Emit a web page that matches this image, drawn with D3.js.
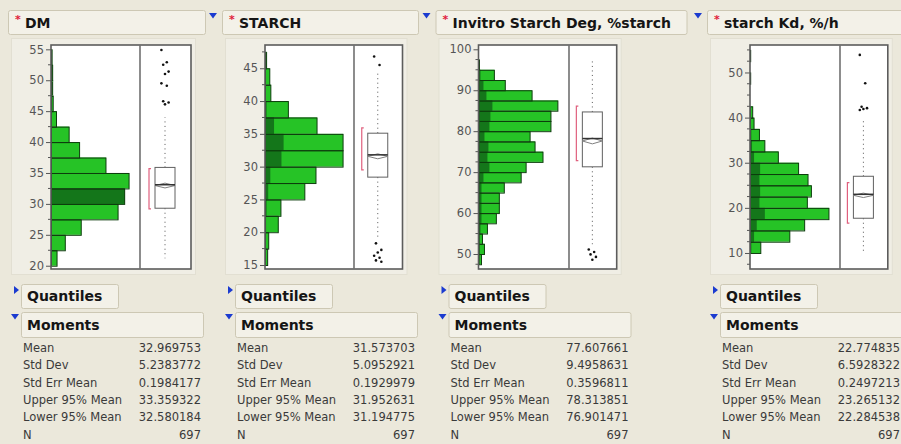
<!DOCTYPE html>
<html>
<head>
<meta charset="utf-8">
<script src="https://cdn.jsdelivr.net/npm/d3@7"></script>
<style>
  html, body { margin: 0; padding: 0; background: #ebe8db; }
  svg { display: block; font-family: "DejaVu Sans", Verdana, sans-serif; }
</style>
</head>
<body>
<svg id="chart" width="901" height="444"></svg>
<script>
// ---- Data -------------------------------------------------------------
const variableNames = ["DM", "STARCH", "Invitro Starch Deg, %starch", "starch Kd, %/h"];
const binWidth = 2.5;
const momentLabels = ["Mean", "Std Dev", "Std Err Mean", "Upper 95% Mean", "Lower 95% Mean", "N"];

// DM
const dmBinStarts = [20, 22.5, 25, 27.5, 30, 32.5, 35, 37.5, 40, 42.5, 45, 47.5, 50, 52.5];
const dmCounts    = [11, 26, 55, 122, 134, 142, 100, 52, 33, 10, 4, 3, 3, 2];
const dmSelected  = [0, 0, 0, 0, 134, 0, 0, 0, 0, 0, 0, 0, 0, 0];
const dmTicks     = [20, 25, 30, 35, 40, 45, 50, 55];
const dmAxisRange = [19.47, 55.7];
const dmBox       = [21.2, 29.3, 33.1, 35.9, 44.0];   // whisker low, Q1, median, Q3, whisker high
const dmShortestHalf = [29.2, 35.7];
const dmOutliers  = [54.9, 52.9, 52.5, 51.4, 51.0, 49.5, 49.1, 46.6, 46.4, 46.1];
const dmMoments   = ["32.969753", "5.2383772", "0.1984177", "33.359322", "32.580184", "697"];

// STARCH
const starchBinStarts = [15, 17.5, 20, 22.5, 25, 27.5, 30, 32.5, 35, 37.5, 40, 42.5, 45];
const starchCounts    = [5, 7, 25, 30, 75, 96, 147, 147, 98, 44, 11, 9, 3];
const starchSelected  = [0, 1, 2, 3, 6, 10, 31, 35, 17, 3, 1, 0, 0];
const starchTicks     = [15, 20, 25, 30, 35, 40, 45];
const starchAxisRange = [14.39, 48.55];
const starchBox       = [19.2, 28.4, 31.8, 35.1, 44.2];
const starchShortestHalf = [29.5, 35.9];
const starchOutliers  = [46.8, 45.5, 18.3, 17.3, 16.9, 16.4, 16.1, 15.7, 15.5];
const starchMoments   = ["31.573703", "5.0952921", "0.1929979", "31.952631", "31.194775", "697"];

// Invitro starch degradation
const invitroBinStarts = [47.5, 50, 52.5, 55, 57.5, 60, 62.5, 65, 67.5, 70, 72.5, 75, 77.5, 80, 82.5, 85, 87.5, 90, 92.5, 95];
const invitroCounts    = [3, 6, 4, 9, 18, 21, 21, 26, 43, 48, 65, 57, 52, 73, 73, 80, 54, 27, 16, 1];
const invitroSelected  = [0, 1, 1, 2, 3, 3, 3, 3, 5, 11, 9, 10, 6, 11, 12, 14, 8, 5, 2, 0];
const invitroTicks     = [50, 60, 70, 80, 90, 100];
const invitroAxisRange = [46.34, 101.05];
const invitroBox       = [52.4, 71.3, 78.2, 84.7, 97.4];
const invitroShortestHalf = [72.8, 86.1];
const invitroOutliers  = [51.1, 50.5, 49.9, 49.3, 48.6];
const invitroMoments   = ["77.607661", "9.4958631", "0.3596811", "78.313851", "76.901471", "697"];

// Starch Kd
const kdBinStarts = [10, 12.5, 15, 17.5, 20, 22.5, 25, 27.5, 30, 32.5, 35, 37.5, 40, 42.5, 45, 47.5, 50, 52.5];
const kdCounts    = [16, 59, 81, 117, 85, 91, 86, 72, 42, 22, 14, 6, 4, 0, 0, 1, 0, 1];
const kdSelected  = [2, 6, 10, 22, 14, 15, 14, 15, 6, 3, 2, 1, 1, 0, 0, 0, 0, 0];
const kdTicks     = [10, 20, 30, 40, 50];
const kdAxisRange = [6.45, 56.09];
const kdBox       = [9.9, 17.7, 23.0, 27.0, 39.6];
const kdShortestHalf = [16.6, 25.6];
const kdOutliers  = [53.9, 47.6, 42.4, 42.1, 41.9, 41.7];
const kdMoments   = ["22.774835", "6.5928322", "0.2497213", "23.265132", "22.284538", "697"];

// ---- Panels -----------------------------------------------------------
const panels = [
  { name: variableNames[0], starts: dmBinStarts, counts: dmCounts, selected: dmSelected, ticks: dmTicks,
    range: dmAxisRange, box: dmBox, half: dmShortestHalf, outliers: dmOutliers, moments: dmMoments },
  { name: variableNames[1], starts: starchBinStarts, counts: starchCounts, selected: starchSelected, ticks: starchTicks,
    range: starchAxisRange, box: starchBox, half: starchShortestHalf, outliers: starchOutliers, moments: starchMoments },
  { name: variableNames[2], starts: invitroBinStarts, counts: invitroCounts, selected: invitroSelected, ticks: invitroTicks,
    range: invitroAxisRange, box: invitroBox, half: invitroShortestHalf, outliers: invitroOutliers, moments: invitroMoments },
  { name: variableNames[3], starts: kdBinStarts, counts: kdCounts, selected: kdSelected, ticks: kdTicks,
    range: kdAxisRange, box: kdBox, half: kdShortestHalf, outliers: kdOutliers, moments: kdMoments }
];

// Placement of each report column
const layout = [
  { left: 51,    div: 89,   right: 140,   titleW: 197, momW: 182, arrow: false },
  { left: 265,   div: 89,   right: 137.5, titleW: 196, momW: 182, arrow: true },
  { left: 478.5, div: 90.5, right: 138.2, titleW: 251, momW: 182, arrow: true },
  { left: 750,   div: 90,   right: 137.8, titleW: 210, momW: 200, arrow: true }
];

const frameTop = 45, frameBottom = 269;
const svg = d3.select("#chart");

const C = {
  panel: "#f3f1e8", panelStroke: "#cdc8b4",
  bar: "#26c326", barSel: "#14761a", barStroke: "#0d3d0d",
  frame: "#5c5c5c", text: "#3a3a3a", tick: "#555", blue: "#1b3bd0", red: "#e0203a",
  half: "#e0607e"
};

function downArrow(g, x, y) {
  g.append("path").attr("d", `M${x},${y} L${x + 8},${y} L${x + 4},${y + 5.5} Z`).attr("fill", C.blue);
}
function rightArrow(g, x, y) {
  g.append("path").attr("d", `M${x},${y} L${x + 5},${y + 4} L${x},${y + 8} Z`).attr("fill", C.blue);
}
function headerBox(g, x, y, w, h, label) {
  g.append("rect").attr("x", x + 0.5).attr("y", y + 0.5).attr("width", w).attr("height", h)
    .attr("rx", 2).attr("fill", C.panel).attr("stroke", C.panelStroke);
  g.append("text").attr("x", x + 6).attr("y", y + h / 2 + 5)
    .attr("font-size", 14).attr("font-weight", "bold").attr("fill", "#151515").text(label);
}

panels.forEach((p, i) => {
  const L = layout[i];
  const g = svg.append("g");
  const x0 = L.left, xDiv = L.left + L.div, x1 = L.left + L.right;

  // title bar
  const tx = x0 - 43;
  if (L.arrow) downArrow(g, x0 - 56, 13);
  g.append("rect").attr("x", tx + 0.5).attr("y", 10.5).attr("width", L.titleW).attr("height", 24)
    .attr("rx", 2).attr("fill", C.panel).attr("stroke", C.panelStroke);
  g.append("text").attr("x", tx + 7).attr("y", 23).attr("font-size", 11).attr("font-weight", "bold")
    .attr("fill", C.red).text("*");
  g.append("text").attr("x", tx + 17).attr("y", 27.5).attr("font-size", 14).attr("font-weight", "bold")
    .attr("fill", "#151515").text(p.name);

  // light outline around the graph area
  g.append("rect").attr("x", x0 - 39.5).attr("y", 38.5).attr("width", L.right + 44).attr("height", 236)
    .attr("fill", "#f0eee5").attr("stroke", "#e2dfd2");

  // frame background
  g.append("rect").attr("x", x0).attr("y", frameTop).attr("width", L.right).attr("height", frameBottom - frameTop)
    .attr("fill", "#ffffff");

  const y = d3.scaleLinear().domain(p.range).range([frameBottom, frameTop]);
  const x = d3.scaleLinear().domain([0, d3.max(p.counts) * 1.14]).range([x0, xDiv]);

  const bins = p.starts.map((s, k) => ({ s, n: p.counts[k], sel: p.selected[k] })).filter(d => d.n > 0);

  // histogram bars: fill, selected portion, outline
  g.append("g").selectAll("rect").data(bins).join("rect")
    .attr("x", x(0)).attr("y", d => y(d.s + binWidth))
    .attr("width", d => x(d.n) - x(0)).attr("height", d => y(d.s) - y(d.s + binWidth))
    .attr("fill", C.bar);
  g.append("g").selectAll("rect").data(bins.filter(d => d.sel > 0)).join("rect")
    .attr("x", x(0)).attr("y", d => y(d.s + binWidth))
    .attr("width", d => x(d.sel) - x(0)).attr("height", d => y(d.s) - y(d.s + binWidth))
    .attr("fill", C.barSel);
  g.append("g").selectAll("rect").data(bins).join("rect")
    .attr("x", x(0) + 0.5).attr("y", d => y(d.s + binWidth) + 0.5)
    .attr("width", d => Math.max(0, x(d.n) - x(0) - 0.5)).attr("height", d => y(d.s) - y(d.s + binWidth))
    .attr("fill", "none").attr("stroke", C.barStroke).attr("stroke-width", 1);

  // axis with major and minor ticks
  const minor = d3.range(Math.ceil(p.range[0] / binWidth) * binWidth, p.range[1], binWidth)
    .filter(v => !p.ticks.includes(v));
  g.append("g").selectAll("line").data(minor).join("line")
    .attr("x1", x0 - 3).attr("x2", x0).attr("y1", d => y(d)).attr("y2", d => y(d))
    .attr("stroke", C.tick).attr("stroke-width", 1);
  const axis = g.append("g").attr("transform", `translate(${x0},0)`)
    .call(d3.axisLeft(y).tickValues(p.ticks).tickSize(5).tickPadding(2).tickFormat(d3.format("d")));
  axis.select(".domain").remove();
  axis.selectAll(".tick line").attr("stroke", C.tick);
  axis.selectAll(".tick text").attr("font-size", 11.5).attr("fill", "#555")
    .attr("font-family", "'DejaVu Sans', Verdana, sans-serif");

  // frame border and divider
  g.append("rect").attr("x", x0).attr("y", frameTop).attr("width", L.right).attr("height", frameBottom - frameTop)
    .attr("fill", "none").attr("stroke", C.frame).attr("stroke-width", 1.6);
  g.append("line").attr("x1", xDiv).attr("x2", xDiv).attr("y1", frameTop).attr("y2", frameBottom)
    .attr("stroke", "#707070").attr("stroke-width", 1.6);

  // outlier box plot
  const bc = (xDiv + x1) / 2 - 0.5, bw = 20;
  const [wLo, q1, med, q3, wHi] = p.box;
  g.append("line").attr("x1", bc).attr("x2", bc).attr("y1", y(q3)).attr("y2", y(wHi))
    .attr("stroke", "#555").attr("stroke-dasharray", "1,3.5");
  g.append("line").attr("x1", bc).attr("x2", bc).attr("y1", y(q1)).attr("y2", y(wLo))
    .attr("stroke", "#555").attr("stroke-dasharray", "1,3.5");
  g.append("rect").attr("x", bc - bw / 2).attr("y", y(q3)).attr("width", bw).attr("height", y(q1) - y(q3))
    .attr("fill", "#ffffff").attr("stroke", "#606060").attr("stroke-width", 1);

  const mean = +p.moments[0], up = +p.moments[3], lo = +p.moments[4];
  g.append("path")
    .attr("d", `M${bc - bw / 2},${y(mean)} L${bc},${y(up)} L${bc + bw / 2},${y(mean)} L${bc},${y(lo)} Z`)
    .attr("fill", "none").attr("stroke", "#808080").attr("stroke-width", 1);
  g.append("line").attr("x1", bc - bw / 2).attr("x2", bc + bw / 2).attr("y1", y(med)).attr("y2", y(med))
    .attr("stroke", "#333").attr("stroke-width", 1.5);

  // shortest half bracket
  const hx = bc - bw / 2 - 6;
  g.append("path")
    .attr("d", `M${hx + 2},${y(p.half[1])} L${hx},${y(p.half[1])} L${hx},${y(p.half[0])} L${hx + 2},${y(p.half[0])}`)
    .attr("fill", "none").attr("stroke", C.half).attr("stroke-width", 1.2);

  // outliers, spread slightly sideways
  g.append("g").selectAll("circle").data(p.outliers).join("circle")
    .attr("cx", (d, k) => bc + ((k * 3) % 5 - 2) * 1.8).attr("cy", d => y(d)).attr("r", 1.3)
    .attr("fill", "#111");

  // Quantiles / Moments outline headers
  const sx = x0 - 30;
  rightArrow(g, x0 - 37, 286);
  headerBox(g, sx, 284, 97, 24, "Quantiles");
  downArrow(g, x0 - 40, 314);
  headerBox(g, sx, 312, L.momW, 25, "Moments");

  // Moments table
  const rows = g.append("g").attr("font-size", 11.5).attr("fill", C.text);
  momentLabels.forEach((lab, k) => {
    const yy = 352 + k * 17.3;
    rows.append("text").attr("x", x0 - 28).attr("y", yy).text(lab);
    rows.append("text").attr("x", x0 + 150).attr("y", yy).attr("text-anchor", "end").text(p.moments[k]);
  });
});
</script>
</body>
</html>
